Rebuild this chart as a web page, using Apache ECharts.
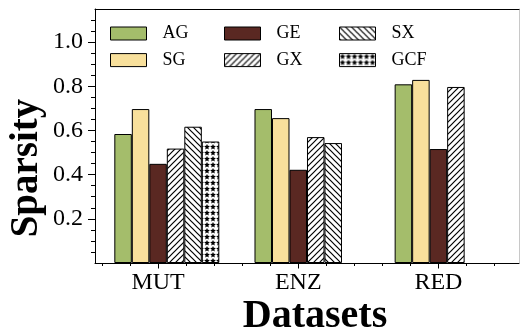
<!DOCTYPE html>
<html><head><meta charset="utf-8">
<script src="https://cdn.jsdelivr.net/npm/echarts@6/dist/echarts.min.js"></script>
<style>html,body{margin:0;padding:0;background:#fff}#c{width:520px;height:331px}</style>
</head><body><div id="c"></div>
<script>
// ---- data ----
const categories = ['MUT', 'ENZ', 'RED'];
const categoryPositions = [0, 1, 2];
const AG  = [0.584, 0.697, 0.809];
const SG  = [0.697, 0.656, 0.829];
const GE  = [0.449, 0.422, 0.516];
const GX  = [0.518, 0.570, 0.797];
const SX  = [0.617, 0.543, null];
const GCF = [0.550, null, null];
const yTickValues = [0.2, 0.4, 0.6, 0.8, 1.0];
const xMinorTickValues = [-0.4, -0.2, 0, 0.2, 0.4, 0.6, 0.8, 1, 1.2, 1.4, 1.6, 1.8, 2, 2.2, 2.4];

const FONT = 'Liberation Serif';

function hatch(dir) {
  const s = 6, c = document.createElement('canvas');
  c.width = s; c.height = s;
  const g = c.getContext('2d');
  g.fillStyle = '#fff'; g.fillRect(0, 0, s, s);
  g.strokeStyle = '#000'; g.lineWidth = 1.2;
  g.beginPath();
  if (dir > 0) {
    g.moveTo(-1, s + 1); g.lineTo(s + 1, -1);
    g.moveTo(-1, 1); g.lineTo(1, -1);
    g.moveTo(s - 1, s + 1); g.lineTo(s + 1, s - 1);
  } else {
    g.moveTo(-1, -1); g.lineTo(s + 1, s + 1);
    g.moveTo(s - 1, -1); g.lineTo(s + 1, 1);
    g.moveTo(-1, s - 1); g.lineTo(1, s + 1);
  }
  g.stroke();
  return c;
}
function stars() {
  const s = 6, c = document.createElement('canvas');
  c.width = s; c.height = s;
  const g = c.getContext('2d');
  g.fillStyle = '#fff'; g.fillRect(0, 0, s, s);
  g.fillStyle = '#000';
  g.beginPath();
  const cx = 3, cy = 3, R = 3.1, r = 1.4;
  for (let i = 0; i < 10; i++) {
    const a = -Math.PI / 2 + i * Math.PI / 5;
    const rr = i % 2 ? r : R;
    const x = cx + rr * Math.cos(a), y = cy + rr * Math.sin(a);
    if (i === 0) g.moveTo(x, y); else g.lineTo(x, y);
  }
  g.closePath(); g.fill();
  return c;
}

const styles = {
  AG: { color: '#a4bd6b' },
  SG: { color: '#f8e09c' },
  GE: { color: '#5a2822' },
  GX: { color: { image: hatch(1), repeat: 'repeat' } },
  SX: { color: { image: hatch(-1), repeat: 'repeat' } },
  GCF: { color: { image: stars(), repeat: 'repeat' } }
};
const seriesData = { AG, SG, GE, GX, SX, GCF };

const BW = 17.5;
const series = [{
  type: 'bar', name: '_pad', silent: true, barWidth: BW, barGap: 0,
  data: categoryPositions.map(x => [x, null]), itemStyle: { color: 'transparent' }
}];
Object.keys(seriesData).forEach(n => {
  series.push({
    type: 'bar', name: n, barWidth: BW, barGap: 0,
    data: categoryPositions.map((x, i) => [x, seriesData[n][i]]),
    itemStyle: Object.assign({ borderColor: '#000', borderWidth: 1 }, styles[n])
  });
});

const legendCols = [['AG', 'SG'], ['GE', 'GX'], ['SX', 'GCF']];
const legendLeft = [110, 224, 339];

const chart = echarts.init(document.getElementById('c'), null, { renderer: 'canvas' });
chart.setOption({
  animation: false,
  backgroundColor: '#fff',
  grid: { left: 95, right: 1, top: 9, bottom: 68, containLabel: false, outerBoundsMode: 'none' },
  legend: legendCols.map((d, i) => ({
    data: d, orient: 'vertical', left: legendLeft[i], top: 24.5, padding: 0,
    itemWidth: 36, itemHeight: 13, itemGap: 8.6, icon: 'rect',
    itemStyle: { borderColor: '#000', borderWidth: 1 },
    textStyle: { fontFamily: FONT, fontSize: 18, color: '#000', lineHeight: 18, padding: [0, 0, 0, 11] }
  })),
  xAxis: [{
    type: 'value', position: 'bottom', min: -0.45, max: 2.575,
    axisLine: { show: true, onZero: false, lineStyle: { color: '#000', width: 1 } },
    axisTick: { show: true, length: 3, customValues: xMinorTickValues, lineStyle: { color: '#000' } },
    axisLabel: { customValues: categoryPositions, formatter: v => categories[Math.round(v)],
      fontFamily: FONT, fontSize: 24, color: '#000', margin: 8 },
    splitLine: { show: false },
    name: 'Datasets', nameLocation: 'middle', nameGap: 34, nameMoveOverlap: false,
    nameTextStyle: { fontFamily: FONT, fontWeight: 'bold', fontSize: 40, color: '#000', padding: [0, 0, 0, 16] }
  }, {
    type: 'value', position: 'bottom', min: -0.45, max: 2.575,
    axisLine: { show: false, onZero: false },
    axisTick: { show: true, length: 5.5, customValues: categoryPositions, lineStyle: { color: '#000' } },
    axisLabel: { show: false }, splitLine: { show: false }
  }, {
    type: 'value', position: 'top', min: -0.45, max: 2.575,
    axisLine: { show: true, onZero: false, lineStyle: { color: '#000', width: 1 } },
    axisTick: { show: false }, axisLabel: { show: false }, splitLine: { show: false }
  }],
  yAxis: [{
    type: 'value', position: 'left', min: 0, max: 1.15, interval: 0.2,
    axisLine: { show: true, onZero: false, lineStyle: { color: '#000', width: 1 } },
    axisTick: { show: true, length: 7, customValues: yTickValues, lineStyle: { color: '#000' } },
    minorTick: { show: true, splitNumber: 4, length: 4, lineStyle: { color: '#000' } },
    axisLabel: { customValues: yTickValues, formatter: v => v.toFixed(1),
      fontFamily: FONT, fontSize: 24, color: '#000', margin: 12 },
    splitLine: { show: false }, minorSplitLine: { show: false },
    name: 'Sparsity', nameLocation: 'middle', nameGap: 49, nameMoveOverlap: false,
    nameTextStyle: { fontFamily: FONT, fontWeight: 'bold', fontSize: 39, color: '#000', padding: [0, 64, 0, 0] }
  }, {
    type: 'value', position: 'right', min: 0, max: 1.15,
    axisLine: { show: true, onZero: false, lineStyle: { color: '#c8c8c8', width: 1 } },
    axisTick: { show: false }, axisLabel: { show: false }, splitLine: { show: false }
  }],
  series: series
});
</script>
</body></html>
